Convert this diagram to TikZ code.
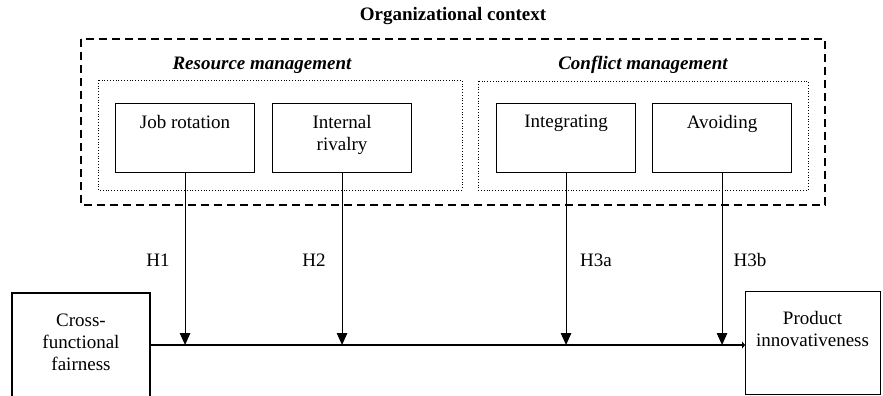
\documentclass[tikz,border=0pt]{standalone}
\usepackage{fontspec}
\setmainfont{Liberation Serif}
\usetikzlibrary{arrows.meta}
\begin{document}
\begin{tikzpicture}[x=1pt,y=-1pt,
  every node/.style={inner sep=0pt,font=\fontsize{19}{22}\selectfont},
  varbox/.style={draw,line width=1.1pt,minimum width=139pt,minimum height=69pt},
  outerbox/.style={draw,line width=1.1pt,dash pattern=on 8pt off 5pt},
  groupbox/.style={draw,line width=0.8pt,dotted},
  txt/.style={align=center,anchor=north},
  hyp/.style={anchor=base},
  link/.style={line width=1.1pt,-{Triangle[length=12pt,width=10.5pt]}},
  mainlink/.style={line width=1.1pt,-{Triangle[length=3pt,width=7pt]}}]
\useasboundingbox (0,0) rectangle (883,396);
\clip (0,0) rectangle (883,396);

% outer context and the two groups
\draw[outerbox] (81,39) rectangle (825,205);
\node[font=\fontsize{19}{22}\selectfont\bfseries,anchor=base] (ctx) at (453,21) {Organizational context};
\draw[groupbox] (98,80) rectangle (462,190);
\draw[groupbox] (478,81) rectangle (808,190);
\node[font=\fontsize{19}{22}\selectfont\bfseries\itshape,anchor=base] (rm) at (262,70) {Resource management};
\node[font=\fontsize{19}{22}\selectfont\bfseries\itshape,anchor=base] (cm) at (643,70) {Conflict management};

% moderator boxes
\node[varbox,anchor=north west] (job) at (115,103) {};
\node[varbox,anchor=north west] (riv) at (272,103) {};
\node[varbox,anchor=north west] (int) at (496,103) {};
\node[varbox,anchor=north west] (avo) at (652,103) {};
\node[txt] (jobt) at ([yshift=-12pt]job.north) {Job rotation};
\node[txt] (rivt) at ([yshift=-12pt]riv.north) {Internal\\rivalry};
\node[txt] (intt) at ([yshift=-12pt]int.north) {Integrating};
\node[txt] (avot) at ([yshift=-12pt]avo.north) {Avoiding};

% independent and dependent variables
\draw[line width=1.1pt] (12,410) -- (12,293) -- (150,293) -- (150,410);
\coordinate (cffe) at (150,345);
\node[txt] (cfft) at (81,314) {Cross-\\functional\\fairness};
\node[draw,line width=1.1pt,anchor=north west,minimum width=135pt,minimum height=103pt] (prod) at (745,291) {};
\node[txt] (prodt) at (812.5,311) {Product\\innovativeness};

% main effect and moderating paths
\draw[mainlink] (cffe) -- (cffe -| prod.west);
\draw[link] (job.south) -- (job.south |- cffe);
\draw[link] (riv.south) -- (riv.south |- cffe);
\draw[link] (int.south) -- (int.south |- cffe);
\draw[link] (avo.south) -- (avo.south |- cffe);

\node[hyp] (h1) at (158,266) {H1};
\node[hyp] (h2) at (314,266) {H2};
\node[hyp] (h3a) at (596,266) {H3a};
\node[hyp] (h3b) at (750,266) {H3b};
\end{tikzpicture}
\end{document}
